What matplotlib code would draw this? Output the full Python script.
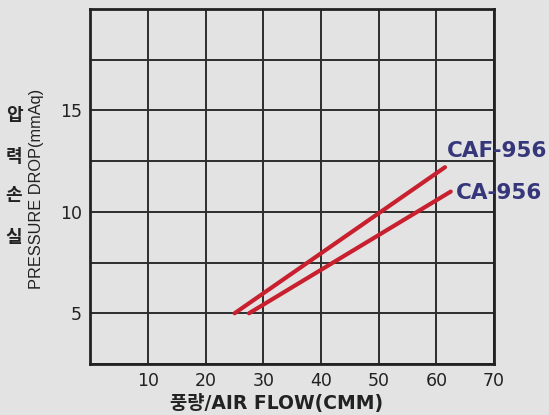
import matplotlib
matplotlib.use("Agg")
import matplotlib.pyplot as plt

# Pressure drop vs. air flow for two filter models
models = ["CAF-956", "CA-956"]
flow_caf = [25, 61.5]
drop_caf = [5.0, 12.2]
flow_ca = [27.5, 62.5]
drop_ca = [5.0, 11.0]

x_ticks = [10, 20, 30, 40, 50, 60, 70]
y_ticks = [5, 10, 15]

WIDE = "DejaVu Sans"
FONTS = ["DejaVu Sans", "Noto Sans CJK KR"]
BG = "#e3e3e3"
INK = "#222222"
LINE_RED = "#c8202e"
LABEL_BLUE = "#36367a"

fig = plt.figure(figsize=(5.49, 4.15), dpi=100, facecolor=BG)
ax = fig.add_axes([0.1648, 0.1229, 0.7350, 0.8554], facecolor=BG)

ax.set_xlim(0, 70)
ax.set_ylim(2.5, 20)
ax.grid(True, color="#2e2e2e", linewidth=1.4)
ax.set_axisbelow(True)
for s in ax.spines.values():
    s.set_linewidth(2.0)
    s.set_color(INK)

ax.set_xticks(x_ticks)
ax.set_xticklabels([str(v) for v in x_ticks])
y_grid = [2.5, 5, 7.5, 10, 12.5, 15, 17.5, 20]
ax.set_yticks(y_grid)
ax.set_yticklabels([str(int(v)) if v in y_ticks else "" for v in y_grid])
ax.tick_params(length=0, labelsize=12.5, colors=INK, pad=6)
for lab in ax.get_xticklabels() + ax.get_yticklabels():
    lab.set_family(WIDE)

ax.plot(flow_caf, drop_caf, color=LINE_RED, linewidth=3, solid_capstyle="round")
ax.plot(flow_ca, drop_ca, color=LINE_RED, linewidth=3, solid_capstyle="round")

# Model labels at line ends
fig.text(447 / 549, 1 - 151 / 415, models[0], color=LABEL_BLUE, fontsize=15.5,
         fontweight="bold", family=WIDE, va="center", ha="left")
fig.text(456 / 549, 1 - 193 / 415, models[1], color=LABEL_BLUE, fontsize=15.5,
         fontweight="bold", family=WIDE, va="center", ha="left")

# Axis titles
fig.text(277 / 549, 1 - 403 / 415, "풍량/AIR FLOW(CMM)", color=INK,
         fontsize=13.5, fontweight="bold", family=FONTS, ha="center", va="center")
fig.text(37 / 549, 1 - 189 / 415, "PRESSURE DROP(mmAq)", color=INK,
         fontsize=11.8, family="Liberation Sans", rotation=90,
         ha="center", va="center")
for ch, yp in zip("압력손실", [116, 156, 196, 237]):
    fig.text(14 / 549, 1 - yp / 415, ch, color=INK, fontsize=13,
             fontweight="bold", family="Noto Sans CJK KR", ha="center", va="center")

fig.savefig("out.png", dpi=100, facecolor=BG)
